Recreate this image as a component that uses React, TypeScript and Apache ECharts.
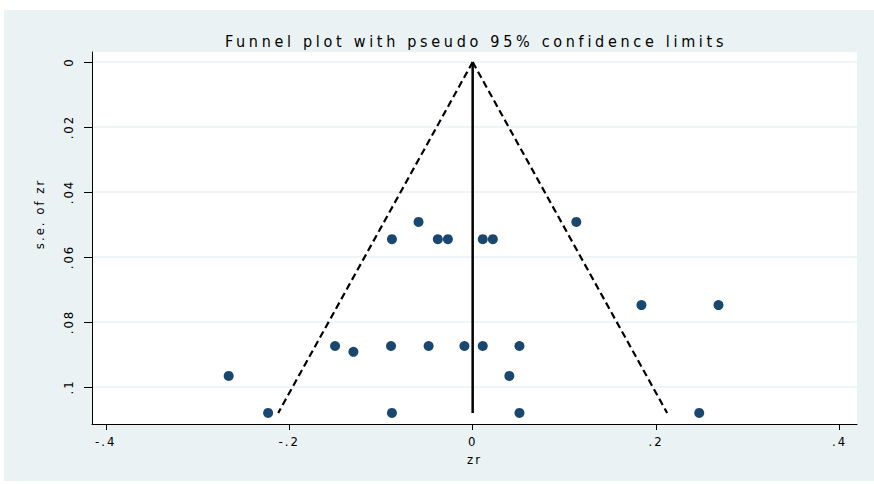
import React, { useEffect, useRef } from "react";
import * as echarts from "echarts";

// Effect sizes (zr) and their standard errors
const zrValues = [
  -0.059, 0.113,
  -0.088, -0.038, -0.027, 0.011, 0.022,
  0.184, 0.268,
  -0.150, -0.089, -0.048, -0.009, 0.011, 0.051,
  -0.130,
  -0.266, 0.040,
  -0.223, -0.088, 0.051, 0.247,
];
const seValues = [
  0.0492, 0.0492,
  0.0545, 0.0545, 0.0545, 0.0545, 0.0545,
  0.0748, 0.0748,
  0.0874, 0.0874, 0.0874, 0.0874, 0.0874, 0.0874,
  0.0892,
  0.0966, 0.0966,
  0.108, 0.108, 0.108, 0.108,
];

// Pseudo 95% limits (dashed) and the pooled estimate line
const leftLimitZr = [0, -0.212];
const rightLimitZr = [0, 0.212];
const limitSe = [0, 0.108];
const pooledZr = [0, 0];
const pooledSe = [0, 0.108];

const xTickValues = [-0.4, -0.2, 0, 0.2, 0.4];
const yTickValues = [0, 0.02, 0.04, 0.06, 0.08, 0.1];

const titleText = "Funnel plot with pseudo 95% confidence limits";
const xName = "zr";
const yName = "s.e. of zr";

const FONT = "'Liberation Sans Narrow', 'DejaVu Sans Condensed', 'Liberation Sans', Arial, sans-serif";
const BG = "#eaf2f3";
const NAVY = "#1a476f";

const stataNum = (v: number) => {
  if (Math.abs(v) < 1e-9) return "0";
  const s = String(Math.round(v * 1000) / 1000);
  return s.replace(/^0\./, ".").replace(/^-0\./, "-.");
};

export default function App() {
  const ref = useRef<HTMLDivElement>(null);
  useEffect(() => {
    if (!ref.current) return;
    const chart = echarts.init(ref.current, undefined, { renderer: "svg" });
    const points = zrValues.map((z, i) => [z, seValues[i]]);
    chart.setOption({
      animation: false,
      backgroundColor: "#ffffff",
      textStyle: { fontFamily: FONT },
      graphic: [
        {
          type: "rect",
          z: -10,
          silent: true,
          shape: { x: 4, y: 10, width: 870, height: 471 },
          style: { fill: BG },
        },
        {
          type: "text",
          x: 39,
          y: 214,
          rotation: Math.PI / 2,
          style: {
            text: yName,
            fontSize: 13,
            fontFamily: FONT,
            fill: "#000",
            align: "center",
            verticalAlign: "middle",
          },
        },
      ],
      title: {
        text: titleText,
        left: 471,
        top: 28,
        textAlign: "center",
        textStyle: { fontSize: 16, fontWeight: "normal", color: "#000", fontFamily: FONT },
      },
      grid: {
        left: 92,
        right: 17,
        top: 52,
        bottom: 60,
        show: true,
        backgroundColor: "#ffffff",
        borderWidth: 0,
      },
      xAxis: {
        type: "value",
        min: -0.415,
        max: 0.419,
        name: xName,
        nameLocation: "middle",
        nameGap: 29,
        nameTextStyle: { fontSize: 13, color: "#000", fontFamily: FONT },
        axisLine: { show: true, onZero: false, lineStyle: { color: "#000", width: 1 } },
        axisTick: { show: true, length: 6, customValues: xTickValues, lineStyle: { color: "#000" } },
        axisLabel: {
          customValues: xTickValues,
          margin: 11,
          fontSize: 13,
          color: "#000",
          fontFamily: FONT,
          formatter: (v: number) => stataNum(v),
        },
        splitLine: { show: false },
      },
      yAxis: {
        type: "value",
        inverse: true,
        min: -0.0031,
        max: 0.1114,
        axisLine: { show: true, onZero: false, lineStyle: { color: "#000", width: 1 } },
        axisTick: { show: true, length: 8, customValues: yTickValues, lineStyle: { color: "#000" } },
        axisLabel: {
          customValues: yTickValues,
          rotate: 90,
          margin: 17,
          fontSize: 13,
          color: "#000",
          fontFamily: FONT,
          formatter: (v: number) => stataNum(v),
        },
        splitLine: { show: true, lineStyle: { color: BG, width: 1.5 } },
      },
      series: [
        {
          type: "line",
          data: leftLimitZr.map((z, i) => [z, limitSe[i]]),
          symbol: "none",
          lineStyle: { color: "#000", width: 2.2, type: [7, 4] },
          z: 2,
        },
        {
          type: "line",
          data: rightLimitZr.map((z, i) => [z, limitSe[i]]),
          symbol: "none",
          lineStyle: { color: "#000", width: 2.2, type: [7, 4] },
          z: 2,
        },
        {
          type: "line",
          data: pooledZr.map((z, i) => [z, pooledSe[i]]),
          symbol: "none",
          lineStyle: { color: "#000", width: 2.5 },
          z: 2,
        },
        {
          type: "scatter",
          data: points,
          symbol: "circle",
          symbolSize: 10,
          itemStyle: { color: NAVY, opacity: 1 },
          z: 3,
        },
      ],
    });
    return () => chart.dispose();
  }, []);
  return (
    <>
      <style>{`
        .funnel-chart svg text { letter-spacing: 2px; }
        .funnel-chart svg text[style*="16px"] { letter-spacing: 3.7px; }
      `}</style>
      <div
        ref={ref}
        className="funnel-chart"
        style={{ position: "fixed", left: 0, top: 0, width: 874, height: 484 }}
      />
    </>
  );
}
